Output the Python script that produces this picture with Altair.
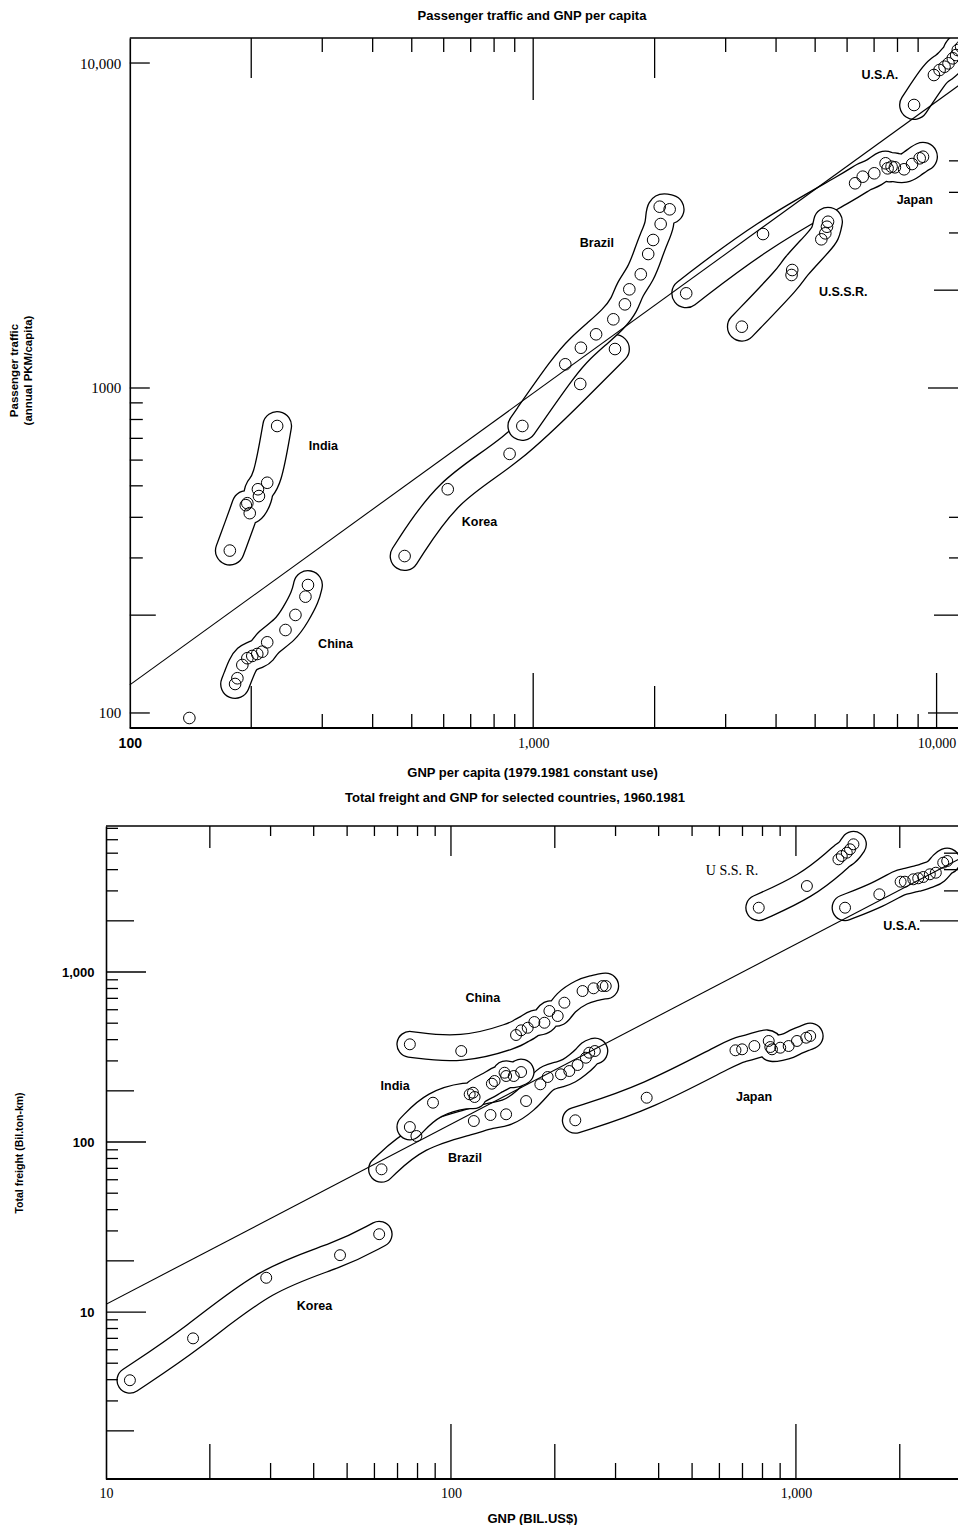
import math
import altair as alt
import pandas as pd

SANS = "Liberation Sans, Arial, Helvetica, sans-serif"
SERIF = "Liberation Serif, Times New Roman, serif"

# ================= Panel 1: Passenger traffic and GNP per capita =================
p1_title = "Passenger traffic and GNP per capita"
p1_x_title = "GNP per capita (1979.1981 constant use)"
p1_y_title = ["Passenger traffic", "(annual PKM/capita)"]
p1_x_labels = [100, 1000, 10000]
p1_x_label_text = ["100", "1,000", "10,000"]
p1_y_labels = [100, 1000, 10000]
p1_y_label_text = ["100", "1000", "10,000"]
p1_x_domain = [87.3, 11300]
p1_y_domain = [89.9, 11940]

p1_india_gnp = [177.0, 195.6, 193.9, 198.3, 209.0, 207.8, 219.1, 231.9]
p1_india_pkm = [316, 442, 436, 412, 465, 488, 511, 764]
p1_china_gnp = [182.4, 184.8, 190.1, 195.6, 201.2, 207.0, 213.0, 219.1, 243.2, 257.4, 272.5, 276.5]
p1_china_pkm = [122.8, 127.9, 140.5, 147.4, 149.8, 151.9, 154.4, 165.0, 180.0, 200.3, 228.0, 247.6]
p1_korea_gnp = [480, 614, 874, 1308, 1595]
p1_korea_pkm = [304, 488, 627, 1029, 1318]
p1_brazil_gnp = [940, 1201, 1313, 1432, 1580, 1688, 1731, 1848, 1928, 1983, 2070, 2059, 2179]
p1_brazil_pkm = [764, 1183, 1330, 1463, 1627, 1809, 2012, 2238, 2584, 2854, 3196, 3613, 3547]
p1_japan_gnp = [2395, 3713, 6281, 6561, 7007, 7475, 7561, 7734, 7881, 8307, 8693, 9080, 9253]
p1_japan_pkm = [1956, 2977, 4265, 4469, 4578, 4914, 4742, 4797, 4776, 4710, 4889, 5091, 5148]
p1_ussr_gnp = [3290, 4370, 4387, 5179, 5298, 5349, 5381]
p1_ussr_pkm = [1544, 2227, 2307, 2868, 2992, 3135, 3248]
p1_usa_gnp = [8793, 9849, 10171, 10464, 10705, 10969, 11180, 11284, 11502]
p1_usa_pkm = [7428, 9186, 9517, 9741, 9978, 10340, 10583, 10965, 11225]
p1_other_gnp = [140.5]
p1_other_pkm = [96.5]

p1_reg_gnp = [100, 11600]
p1_reg_pkm = [122, 8700]

p1_label_text = ["U.S.A.", "Japan", "U.S.S.R.", "Brazil", "India", "Korea", "China"]
p1_label_gnp = [7237, 8827, 5868, 1438, 302, 736, 323.5]
p1_label_pkm = [9186, 3786, 1974, 2793, 663, 387, 163]

p1_ticks_top = [200, 300, 400, 500, 600, 700, 800, 900, 1000, 2000, 3000, 4000, 5000, 6000, 7000, 8000, 9000]
p1_ticks_bottom = [200, 300, 400, 500, 600, 700, 800, 900, 1000, 2000, 3000, 4000, 5000, 6000, 7000, 8000, 9000, 10000]
p1_ticks_left = [100, 200, 300, 400, 500, 600, 700, 800, 900, 1000, 10000]
p1_ticks_right = [100, 200, 300, 400, 1000, 2000, 3000, 4000, 5000]

# ================= Panel 2: Total freight and GNP =================
p2_title = "Total freight and GNP for selected countries, 1960.1981"
p2_x_title = "GNP  (BIL.US$)"
p2_y_title = "Total freight (Bil.ton-km)"
p2_x_labels = [10, 100, 1000]
p2_x_label_text = ["10", "100", "1,000"]
p2_y_labels = [10, 100, 1000]
p2_y_label_text = ["10", "100", "1,000"]
p2_x_domain = [10, 2950]
p2_y_domain = [1.042, 7225]

p2_korea_gnp = [11.73, 17.88, 29.14, 47.69, 61.93]
p2_korea_frt = [3.97, 7.00, 15.9, 21.6, 28.7]
p2_brazil_gnp = [62.9, 79.4, 116.5, 130.2, 144.5, 165.1, 181.6, 190.7, 208.4, 220.3, 232.8, 246.1, 251.7, 261.3]
p2_brazil_frt = [69.1, 108.5, 132.9, 144.2, 145.6, 174.2, 218.5, 241.2, 250.2, 261.6, 283.8, 313.2, 335.2, 343]
p2_india_gnp = [76.0, 88.7, 113.3, 117.1, 115.8, 131.4, 133.8, 144.5, 143.0, 152.1, 159.7]
p2_india_frt = [122.5, 170.3, 190.8, 184, 195, 220.3, 228.5, 244.5, 255.6, 244.5, 258]
p2_china_gnp = [76.0, 107.1, 154.4, 159.7, 166.9, 174.5, 186.6, 192.9, 203.9, 213.2, 240.7, 259, 275, 281]
p2_china_frt = [375.6, 343, 426, 454, 470, 508, 503, 590, 551, 660, 773, 802, 827, 827]
p2_japan_gnp = [229.3, 369.3, 667.9, 698.2, 757.8, 834, 842.8, 852.3, 900.6, 952.6, 1007, 1071, 1100]
p2_japan_frt = [134.2, 182.2, 346.3, 351, 367, 393, 362, 351, 358.7, 367, 393, 410.8, 420.4]
p2_ussr_gnp = [780.2, 1076, 1328, 1358, 1404, 1435, 1468]
p2_ussr_frt = [2389, 3205, 4602, 4813, 5032, 5271, 5639]
p2_usa_gnp = [1388, 1745, 2011, 2069, 2189, 2262, 2339, 2444, 2544, 2673, 2745]
p2_usa_frt = [2389, 2865, 3398, 3398, 3510, 3558, 3621, 3756, 3838, 4395, 4498]

p2_reg_gnp = [10, 3078]
p2_reg_frt = [11.1, 4800]

p2_label_text = ["U S.S. R.", "U.S.A.", "China", "India", "Brazil", "Japan", "Korea"]
p2_label_gnp = [653, 2025, 123.7, 68.9, 109.8, 756, 40.2]
p2_label_frt = [3927, 1865, 703, 213.5, 80.5, 184, 10.85]
p2_serif_labels = ["U S.S. R."]

p2_ticks_left = [2, 3, 4, 5, 6, 7, 8, 9, 10, 20, 30, 40, 50, 60, 70, 80, 90,
                 100, 200, 300, 400, 500, 600, 700, 800, 900, 1000, 2000, 3000, 4000, 5000, 6000, 7000]
p2_ticks_bottom = [20, 30, 40, 50, 60, 70, 80, 90, 100, 200, 300, 400, 500, 600, 700, 800, 900, 1000, 2000]
p2_ticks_top = [20, 30, 40, 50, 60, 70, 80, 90, 100, 200, 300, 400, 500, 600, 700, 800, 900, 1000, 2000]
p2_ticks_right = [2000, 3000, 4000, 5000]

# ================= helpers =================
W = 852
H1, H2 = 690, 653


def build(series):
    rows = []
    for c, xs, ys in series:
        for i, (a, b) in enumerate(zip(xs, ys)):
            rows.append({"country": c, "x": a, "y": b, "i": i})
    return pd.DataFrame(rows)


def tick_class(v):
    e = math.floor(math.log10(v) + 1e-9)
    m = round(v / 10 ** e, 6)
    return "long" if m == 1 else ("mid" if m == 2 else "short")


def label_expr(vals, texts):
    expr = "''"
    for v, t in zip(reversed(vals), reversed(texts)):
        expr = f"datum.value == {v} ? '{t}' : ({expr})"
    return expr


def panel(df, env_order, reg_df, lab_df, serif_labels, xs, ys, xaxis, yaxis, Hh,
          ax_off, env_w, pt_size, ticks, tick_lens, title):
    X = lambda f: alt.X(f, type="quantitative", scale=xs, axis=xaxis)
    Y = lambda f: alt.Y(f, type="quantitative", scale=ys, axis=yaxis)
    layers = []
    # envelopes (outline trick: black thick line, white thinner line)
    for c in env_order:
        base = alt.Chart(df).transform_filter(alt.datum.country == c).encode(
            x=X("x"), y=Y("y"), order=alt.Order("i:Q"))
        layers.append(base.mark_line(color="black", strokeWidth=env_w, strokeCap="round",
                                     strokeJoin="round", interpolate="basis", clip=True))
        layers.append(base.mark_line(color="white", strokeWidth=env_w - 2.6, strokeCap="round",
                                     strokeJoin="round", interpolate="basis", clip=True))
    # regression line
    layers.append(alt.Chart(reg_df).mark_line(color="black", strokeWidth=1.1, clip=True)
                  .encode(x=X("x"), y=Y("y")))
    # inward tick marks
    for edge, vals in ticks.items():
        tdf = pd.DataFrame({"v": vals, "cls": [tick_class(v) for v in vals]})
        for cls in ["long", "mid", "short"]:
            sub = tdf[tdf.cls == cls]
            if sub.empty:
                continue
            ln = tick_lens[edge][cls]
            base = alt.Chart(sub).mark_rule(color="black", strokeWidth=1.3)
            if edge == "bottom":
                enc = dict(x=X("v"), y=alt.value(Hh), y2=alt.value(Hh - ln))
            elif edge == "top":
                enc = dict(x=X("v"), y=alt.value(0), y2=alt.value(ln))
            elif edge == "left":
                enc = dict(y=Y("v"), x=alt.value(ax_off), x2=alt.value(ax_off + ln))
            else:
                enc = dict(y=Y("v"), x=alt.value(W - ln), x2=alt.value(W))
            layers.append(base.encode(**enc))
    # frame lines (bottom and top)
    one = pd.DataFrame({"k": [0]})
    layers.append(alt.Chart(one).mark_rule(color="black", strokeWidth=2)
                  .encode(x=alt.value(ax_off), x2=alt.value(W), y=alt.value(Hh)))
    layers.append(alt.Chart(one).mark_rule(color="black", strokeWidth=1.6)
                  .encode(x=alt.value(ax_off), x2=alt.value(W), y=alt.value(0)))
    # circles
    layers.append(alt.Chart(df).mark_point(shape="circle", size=pt_size, filled=False, color="black",
                                           strokeWidth=1, opacity=1, clip=True)
                  .encode(x=X("x"), y=Y("y")))
    # country labels
    sans_lab = lab_df[~lab_df.t.isin(serif_labels)]
    serif_lab = lab_df[lab_df.t.isin(serif_labels)]
    layers.append(alt.Chart(sans_lab).mark_text(font=SANS, fontWeight="bold", fontSize=12.5, color="black")
                  .encode(x=X("x"), y=Y("y"), text="t:N"))
    if not serif_lab.empty:
        layers.append(alt.Chart(serif_lab).mark_text(font=SERIF, fontSize=14, color="black")
                      .encode(x=X("x"), y=Y("y"), text="t:N"))
    return alt.layer(*layers).properties(width=W, height=Hh, title=title)


# ================= Panel 1 build =================
p1_df = build([
    ("India", p1_india_gnp, p1_india_pkm), ("China", p1_china_gnp, p1_china_pkm),
    ("Korea", p1_korea_gnp, p1_korea_pkm), ("Brazil", p1_brazil_gnp, p1_brazil_pkm),
    ("Japan", p1_japan_gnp, p1_japan_pkm), ("USSR", p1_ussr_gnp, p1_ussr_pkm),
    ("USA", p1_usa_gnp, p1_usa_pkm), ("other", p1_other_gnp, p1_other_pkm)])
p1_reg = pd.DataFrame({"x": p1_reg_gnp, "y": p1_reg_pkm})
p1_lab = pd.DataFrame({"t": p1_label_text, "x": p1_label_gnp, "y": p1_label_pkm})

p1_ax_off = W * math.log10(p1_x_labels[0] / p1_x_domain[0]) / math.log10(p1_x_domain[1] / p1_x_domain[0])

p1_xs = alt.Scale(type="log", domain=p1_x_domain, nice=False)
p1_ys = alt.Scale(type="log", domain=p1_y_domain, nice=False)
p1_xaxis = alt.Axis(
    values=p1_x_labels, labelExpr=label_expr(p1_x_labels, p1_x_label_text),
    labelFont={"condition": {"test": f"datum.value == {p1_x_labels[0]}", "value": SANS}, "value": SERIF},
    labelFontWeight={"condition": {"test": f"datum.value == {p1_x_labels[0]}", "value": "bold"}, "value": "normal"},
    labelFontSize=14, labelPadding=8, labelFlush=False, labelColor="black",
    ticks=False, domain=False, grid=False,
    title=p1_x_title, titleFont=SANS, titleFontSize=13, titleFontWeight="bold", titleColor="black",
    titlePadding=16)
p1_yaxis = alt.Axis(
    values=p1_y_labels, labelExpr=label_expr(p1_y_labels, p1_y_label_text),
    labelFont=SERIF, labelFontSize=15, labelPadding=9, labelColor="black",
    ticks=False, domain=True, domainColor="black", domainWidth=1.6, grid=False,
    offset=-p1_ax_off,
    title=p1_y_title, titleFont=SANS, titleFontSize=11.5, titleFontWeight="bold", titleColor="black",
    titleX=-110, titleY=332)

p1_ticks = {"top": p1_ticks_top, "bottom": p1_ticks_bottom, "left": p1_ticks_left, "right": p1_ticks_right}
p1_tick_lens = {
    "top": {"long": 62, "mid": 40, "short": 14},
    "bottom": {"long": 55, "mid": 42, "short": 14},
    "left": {"long": 20, "mid": 26, "short": 13},
    "right": {"long": 30, "mid": 24, "short": 9},
}

top = panel(p1_df, ["India", "China", "Korea", "Brazil", "Japan", "USSR", "USA"], p1_reg, p1_lab, [],
            p1_xs, p1_ys, p1_xaxis, p1_yaxis, H1, p1_ax_off, 30, 135, p1_ticks, p1_tick_lens,
            alt.TitleParams(p1_title, font=SANS, fontSize=13, fontWeight="bold", color="black",
                            anchor="middle", frame="group", offset=14))

# ================= Panel 2 build =================
p2_df = build([
    ("Korea", p2_korea_gnp, p2_korea_frt), ("Brazil", p2_brazil_gnp, p2_brazil_frt),
    ("India", p2_india_gnp, p2_india_frt), ("China", p2_china_gnp, p2_china_frt),
    ("Japan", p2_japan_gnp, p2_japan_frt), ("USSR", p2_ussr_gnp, p2_ussr_frt),
    ("USA", p2_usa_gnp, p2_usa_frt)])
p2_reg = pd.DataFrame({"x": p2_reg_gnp, "y": p2_reg_frt})
p2_lab = pd.DataFrame({"t": p2_label_text, "x": p2_label_gnp, "y": p2_label_frt})

p2_xs = alt.Scale(type="log", domain=p2_x_domain, nice=False)
p2_ys = alt.Scale(type="log", domain=p2_y_domain, nice=False)
p2_xaxis = alt.Axis(
    values=p2_x_labels, labelExpr=label_expr(p2_x_labels, p2_x_label_text),
    labelFont=SERIF, labelFontSize=14, labelPadding=7, labelFlush=False, labelColor="black",
    ticks=False, domain=False, grid=False,
    title=p2_x_title, titleFont=SANS, titleFontSize=13, titleFontWeight="bold", titleColor="black",
    titlePadding=12)
p2_yaxis = alt.Axis(
    values=p2_y_labels, labelExpr=label_expr(p2_y_labels, p2_y_label_text),
    labelFont=SANS, labelFontWeight="bold", labelFontSize=13, labelPadding=12, labelColor="black",
    ticks=False, domain=True, domainColor="black", domainWidth=1.6, grid=False,
    title=p2_y_title, titleFont=SANS, titleFontSize=10.5, titleFontWeight="bold", titleColor="black",
    titleX=-82)

p2_ticks = {"top": p2_ticks_top, "bottom": p2_ticks_bottom, "left": p2_ticks_left, "right": p2_ticks_right}
p2_tick_lens = {
    "top": {"long": 30, "mid": 22, "short": 10},
    "bottom": {"long": 55, "mid": 35, "short": 16},
    "left": {"long": 40, "mid": 28, "short": 12},
    "right": {"long": 38, "mid": 38, "short": 14},
}

bottom = panel(p2_df, ["Korea", "Brazil", "India", "China", "Japan", "USSR", "USA"], p2_reg, p2_lab,
               p2_serif_labels, p2_xs, p2_ys, p2_xaxis, p2_yaxis, H2, 0, 27, 120, p2_ticks, p2_tick_lens,
               alt.TitleParams(p2_title, font=SANS, fontSize=13, fontWeight="bold", color="black",
                               anchor="middle", frame="group", offset=20, dx=-17))

chart = alt.vconcat(top, bottom, spacing=13).properties(
    padding={"left": 0, "top": 2, "right": 0, "bottom": 0}
).configure_view(stroke=None).configure_axis(grid=False)

chart.save("out.html", embed_options={"renderer": "svg", "actions": False})
